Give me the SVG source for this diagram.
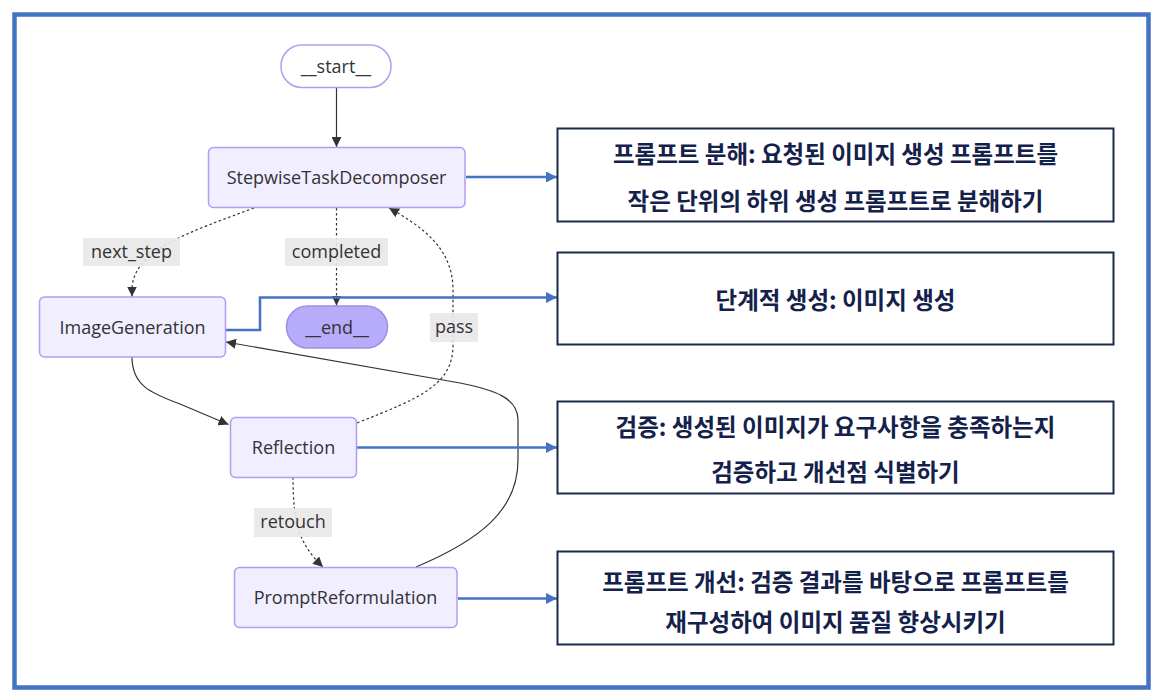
<svg xmlns="http://www.w3.org/2000/svg" width="1164" height="698" viewBox="0 0 1164 698">
<defs>
<style>
.node rect{fill:#f0eeff;stroke:#b49cf0;stroke-width:1.5}
.node text,.lbl text{font-family:"Open Sans","DejaVu Sans",sans-serif;font-size:18px;fill:#333;text-anchor:middle}
.lbl rect{fill:#e8e8e8;opacity:0.9}
.edge{fill:none;stroke:#333;stroke-width:1.2}
.dot{stroke-dasharray:2.5,2.5}
.blue{fill:none;stroke:#4472c4;stroke-width:2.5}
.note rect{fill:#fff;stroke:#1b2a4a;stroke-width:2}
.note text{font-family:"Noto Sans CJK KR","Noto Sans",sans-serif;font-size:23.5px;font-weight:700;fill:#14214a;text-anchor:middle}
</style>
<marker id="ah" viewBox="0 0 10 10" refX="10" refY="5" markerWidth="10" markerHeight="10" markerUnits="userSpaceOnUse" orient="auto">
<path d="M0,0 L10,5 L0,10 z" fill="#333"/>
</marker>
<marker id="bh" viewBox="0 0 10 10" refX="10" refY="5" markerWidth="11" markerHeight="11" markerUnits="userSpaceOnUse" orient="auto">
<path d="M0,0 L10,5 L0,10 z" fill="#4472c4"/>
</marker>
</defs>
<rect x="0" y="0" width="1164" height="698" fill="#fff"/>
<rect x="14.5" y="14.5" width="1134" height="673" fill="none" stroke="#4472c4" stroke-width="4.5"/>

<g id="connectors">
<path class="edge" d="M336.5,87.5 L336.5,147" marker-end="url(#ah)"/>
<path class="edge dot" d="M254,208 C190,232 132,250 132,290 L132,296.5" marker-end="url(#ah)"/>
<path class="edge dot" d="M336.5,208 L336.5,305.5" marker-end="url(#ah)"/>
<path class="edge dot" d="M357,423 C420,398 453,385 453,345 L453,290 C453,250 425,228 389,208" marker-end="url(#ah)"/>
<path class="edge" d="M132,357 C132,385 150,393 180,404 L228.5,424.5" marker-end="url(#ah)"/>
<path class="edge dot" d="M293,477 C293,525 300,545 323,567" marker-end="url(#ah)"/>
<path class="edge" d="M416,567 C480,540 518,510 518,460 L518,420 C518,398 495,390 460,383 L226,342" marker-end="url(#ah)"/>
<path class="blue" d="M466,177 L557,177" marker-end="url(#bh)"/>
<path class="blue" d="M226,330 L260,330 L260,297.5 L557,297.5" marker-end="url(#bh)"/>
<path class="blue" d="M357,447.5 L557,447.5" marker-end="url(#bh)"/>
<path class="blue" d="M458,598.5 L557,598.5" marker-end="url(#bh)"/>
<g class="lbl"><rect x="83" y="238" width="97" height="28"/><text x="131.5" y="258">next_step</text></g>
<g class="lbl"><rect x="285" y="238" width="103" height="28"/><text x="336.5" y="258">completed</text></g>
<g class="lbl"><rect x="430" y="313" width="48" height="29"/><text x="454" y="333">pass</text></g>
<g class="lbl"><rect x="254" y="508" width="78" height="29"/><text x="293" y="528">retouch</text></g>
</g>

<g id="start" class="node"><rect x="281" y="45" width="110" height="42.5" rx="21" style="fill:#fff"/><text x="336" y="73">__start__</text></g>
<g id="StepwiseTaskDecomposer" class="node"><rect x="208.5" y="147.5" width="256.5" height="60" rx="5"/><text x="336.5" y="184">StepwiseTaskDecomposer</text></g>
<g id="ImageGeneration" class="node"><rect x="39.5" y="297" width="186" height="60" rx="5"/><text x="132.5" y="333.5">ImageGeneration</text></g>
<g id="end" class="node"><rect x="286.5" y="306" width="101" height="42" rx="21" style="fill:#b6acfa;stroke:#a28be8"/><text x="337" y="334">__end__</text></g>
<g id="Reflection" class="node"><rect x="230.5" y="417.5" width="126" height="60" rx="5"/><text x="293.5" y="454">Reflection</text></g>
<g id="PromptReformulation" class="node"><rect x="234.5" y="567.5" width="222.5" height="60" rx="5"/><text x="345.5" y="604">PromptReformulation</text></g>

<g id="note1" class="note"><rect x="557.5" y="128.5" width="556" height="93"/><text x="835.5" y="163">프롬프트 분해: 요청된 이미지 생성 프롬프트를</text><text x="835.5" y="210">작은 단위의 하위 생성 프롬프트로 분해하기</text></g>
<g id="note2" class="note"><rect x="557.5" y="252.5" width="556" height="92"/><text x="835.5" y="309">단계적 생성: 이미지 생성</text></g>
<g id="note3" class="note"><rect x="557.5" y="401.5" width="556" height="92"/><text x="835.5" y="436">검증: 생성된 이미지가 요구사항을 충족하는지</text><text x="835.5" y="481">검증하고 개선점 식별하기</text></g>
<g id="note4" class="note"><rect x="557.5" y="551.5" width="556" height="93"/><text x="835.5" y="591">프롬프트 개선: 검증 결과를 바탕으로 프롬프트를</text><text x="835.5" y="631">재구성하여 이미지 품질 향상시키기</text></g>
</svg>
